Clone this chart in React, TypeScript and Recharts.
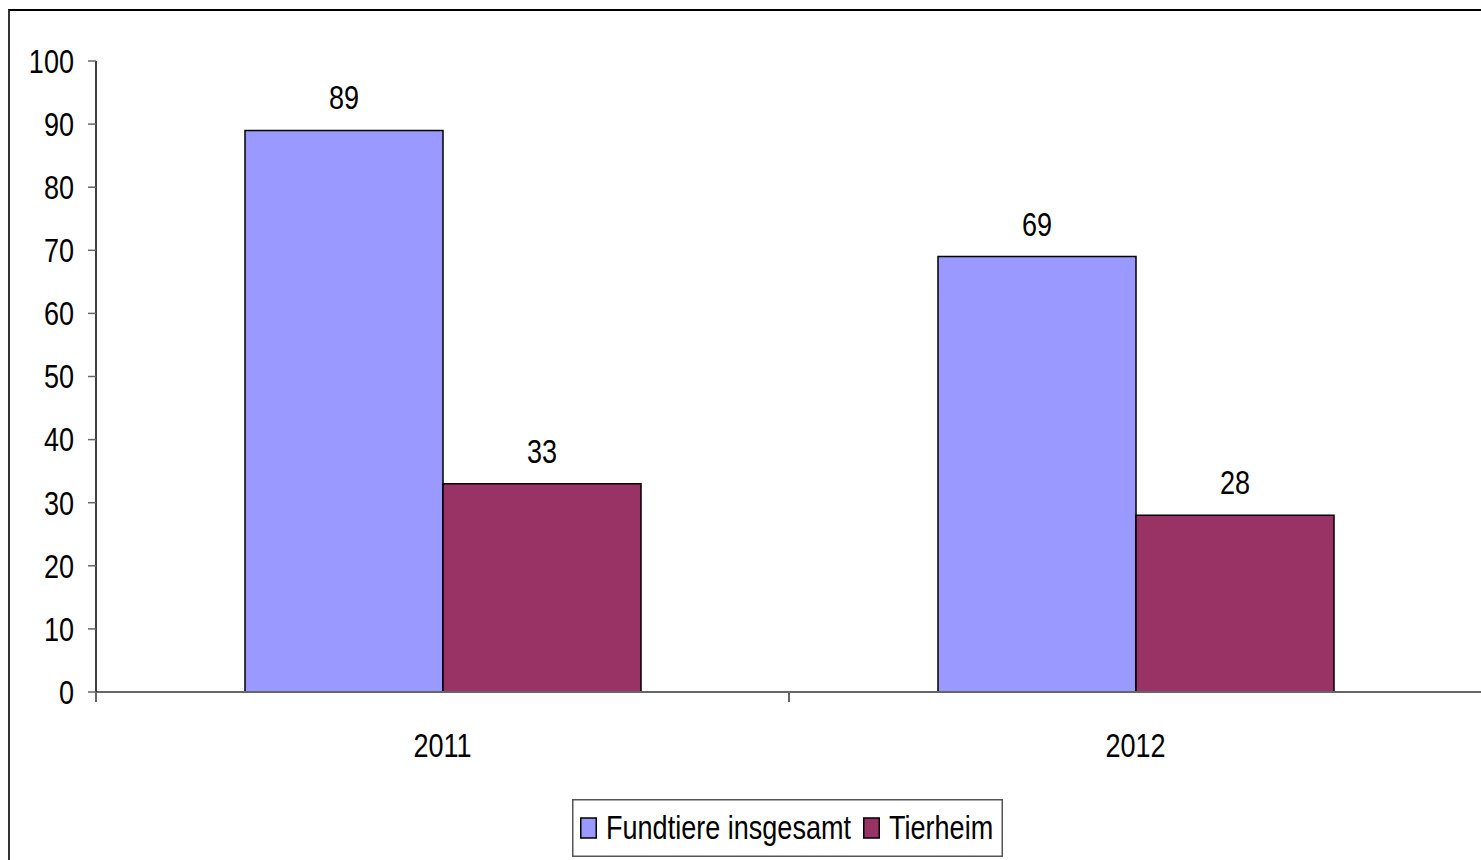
import React from "react";
import { BarChart, Bar, XAxis, YAxis, LabelList } from "recharts";

const years = ["2011", "2012"];
const fundtiere = [89, 69];
const tierheim = [33, 28];
const yTicks = [0, 10, 20, 30, 40, 50, 60, 70, 80, 90, 100];

const SERIES = [
  { key: "fundtiere", name: "Fundtiere insgesamt", color: "#9999FF" },
  { key: "tierheim", name: "Tierheim", color: "#993366" },
];

const FONT = "'Liberation Sans', Arial, sans-serif";
const FS = 33;
const NARROW = 0.82; // squeeze to look like Arial Narrow

// layout
const CHART_W = 1490;
const CHART_H = 860;
const MARGIN = { top: 61, right: 8, bottom: 108, left: 0 };
const Y_W = 96;
const PLOT_W = CHART_W - MARGIN.left - MARGIN.right - Y_W;
const LEGEND_X = [8, 291]; // item offsets inside the legend box

const data = years.map((year, i) => ({
  year,
  fundtiere: fundtiere[i],
  tierheim: tierheim[i],
}));

const NText = ({ x, y, anchor = "middle", dy = "0", children }: any) => (
  <text
    transform={`translate(${x},${y}) scale(${NARROW},1)`}
    x={0}
    y={0}
    dy={dy}
    textAnchor={anchor}
    fill="#000"
    fontSize={FS}
    fontFamily={FONT}
  >
    {children}
  </text>
);

const XTick = (props: any) => {
  const { x, y, payload, index } = props;
  const bw = PLOT_W / years.length;
  const isLast = index === years.length - 1;
  return (
    <g>
      <line x1={x - bw / 2} x2={x - bw / 2} y1={y} y2={y + 10} stroke="#666" strokeWidth={2} />
      {isLast && (
        <line x1={x + bw / 2} x2={x + bw / 2} y1={y} y2={y + 10} stroke="#666" strokeWidth={2} />
      )}
      <NText x={x} y={y + 53} dy="0.36em">
        {payload.value}
      </NText>
    </g>
  );
};

const YTick = (props: any) => {
  const { x, y, payload } = props;
  return (
    <NText x={x} y={y} anchor="end" dy="0.36em">
      {payload.value}
    </NText>
  );
};

const BarLabel = (props: any) => {
  const { x, y, width, value } = props;
  return (
    <NText x={x + width / 2} y={y - 21}>
      {value}
    </NText>
  );
};

export default function App() {
  return (
    <div style={{ position: "relative", width: 1481, height: 860, overflow: "hidden", background: "#fff" }}>
      <style>{"body{margin:0;overflow:hidden}"}</style>
      {/* frame */}
      <div
        style={{
          position: "absolute",
          left: 8,
          top: 9,
          width: 1600,
          height: 1000,
          borderTop: "2px solid #000",
          borderLeft: "2px solid #333",
        }}
      />
      <div style={{ position: "absolute", left: 0, top: 0 }}>
        <BarChart
          width={CHART_W}
          height={CHART_H}
          data={data}
          margin={MARGIN}
          barGap={0}
          style={{ fontFamily: FONT }}
        >
          <XAxis
            dataKey="year"
            axisLine={{ stroke: "#666", strokeWidth: 2 }}
            tickLine={false}
            tickSize={0}
            tickMargin={0}
            height={60}
            tick={<XTick />}
            interval={0}
          />
          <YAxis
            width={Y_W}
            domain={[0, 100]}
            ticks={yTicks}
            interval={0}
            axisLine={{ stroke: "#000", strokeWidth: 1.5 }}
            tickLine={{ stroke: "#666", strokeWidth: 1.5 }}
            tickSize={8}
            tickMargin={14}
            tick={<YTick />}
          />
          {SERIES.map((s) => (
            <Bar
              key={s.key}
              dataKey={s.key}
              name={s.name}
              fill={s.color}
              stroke="#000"
              strokeWidth={1.5}
              barSize={198}
              isAnimationActive={false}
            >
              <LabelList dataKey={s.key} content={<BarLabel />} />
            </Bar>
          ))}
        </BarChart>
      </div>
      {/* legend */}
      <svg
        width={431}
        height={58}
        style={{ position: "absolute", left: 572, top: 799, overflow: "visible" }}
      >
        <rect x={0.75} y={0.75} width={429.5} height={56.5} fill="#fff" stroke="#555" strokeWidth={1.5} />
        {SERIES.map((s, i) => (
          <g key={s.key}>
            <rect
              x={LEGEND_X[i] + 0.75}
              y={19}
              width={15.5}
              height={20}
              fill={s.color}
              stroke="#000"
              strokeWidth={1.5}
            />
            <NText x={LEGEND_X[i] + 26} y={40} anchor="start">
              {s.name}
            </NText>
          </g>
        ))}
      </svg>
    </div>
  );
}
